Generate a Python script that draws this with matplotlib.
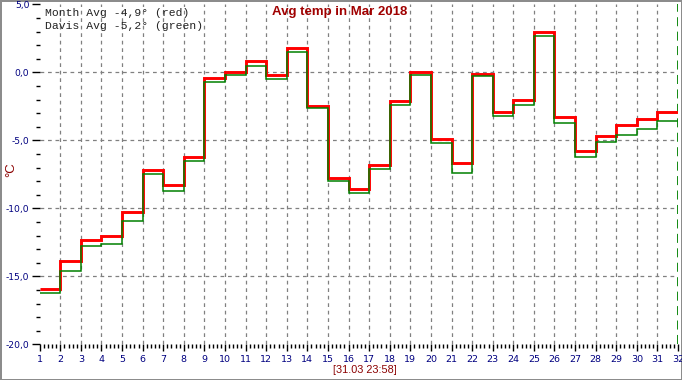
import matplotlib
matplotlib.use("Agg")
import matplotlib.pyplot as plt
from matplotlib.ticker import MultipleLocator
import numpy as np

# daily average temperatures, March 2018
days = np.arange(1, 33)
month_avg = [-15.9, -13.9, -12.3, -12.0, -10.3, -7.2, -8.3, -6.2, -0.4, 0.0,
             0.8, -0.2, 1.8, -2.5, -7.8, -8.6, -6.8, -2.1, -0.0, -4.9,
             -6.7, -0.1, -2.9, -2.0, 3.0, -3.3, -5.8, -4.7, -3.9, -3.4, -2.9]
davis_avg = [-16.2, -14.6, -12.8, -12.6, -10.9, -7.5, -8.7, -6.5, -0.7, -0.2,
             0.5, -0.5, 1.5, -2.6, -8.0, -8.9, -7.1, -2.4, -0.2, -5.2,
             -7.4, -0.3, -3.2, -2.4, 2.7, -3.7, -6.2, -5.1, -4.6, -4.2, -3.6]
legend_lines = ["Month Avg -4,9\u00b0 (red)", "Davis Avg -5,2\u00b0 (green)"]
title = "Avg temp in Mar 2018"
stamp = "[31.03 23:58]"

W, H = 682, 380
fig = plt.figure(figsize=(W / 100, H / 100), dpi=100)
fig.patch.set_facecolor("white")
fig.patch.set_edgecolor("#8c8c8c")
fig.patch.set_linewidth(2)

x0, x1 = 39.7, 678.0
ytop, ybot = 4.3, 344.3
ax = fig.add_axes([x0 / W, 1 - ybot / H, (x1 - x0) / W, (ybot - ytop) / H])
ax.set_xlim(1, 32)
ax.set_ylim(-20, 5)
for s in ax.spines.values():
    s.set_visible(False)

navy = "#000080"
dred = "#8b0000"

# grid
for d in range(2, 32):
    ax.axvline(d, color="#808080", lw=0.9, ls=(0, (3, 3)), zorder=1)
for v in [0, -5, -10, -15]:
    ax.axhline(v, color="#808080", lw=0.9, ls=(0, (3, 3)), zorder=1)
ax.axvline(32, color="#008000", lw=1.3, ls=(0, (5, 3)), zorder=2)

ax.stairs(month_avg, days, baseline=None, color="#ff0000", lw=2.1, zorder=3)
ax.stairs(davis_avg, days, baseline=None, color="#008000", lw=1.1, zorder=4)

ax.xaxis.set_major_locator(MultipleLocator(1))
ax.xaxis.set_minor_locator(MultipleLocator(0.2))
ax.yaxis.set_minor_locator(MultipleLocator(1))
ax.set_yticks([5, 0, -5, -10, -15, -20])
ax.set_yticklabels([f"{v:.1f}".replace(".", ",") for v in [5, 0, -5, -10, -15, -20]])
ax.tick_params(axis="x", which="major", length=5, width=1, pad=2.5,
               labelsize=6.8, labelcolor=navy)
ax.tick_params(axis="x", which="minor", length=3, width=1)
ax.tick_params(axis="y", which="major", length=6, width=1, pad=1.5,
               labelsize=6.6, labelcolor=navy)
ax.tick_params(axis="y", which="minor", length=3, width=1)
ax.patch.set_alpha(0)

fig.text(45 / W, 1 - 13 / H, legend_lines[0], family="Liberation Mono",
         fontsize=8.2, color="#222222", va="center", ha="left")
fig.text(45 / W, 1 - 26 / H, legend_lines[1], family="Liberation Mono",
         fontsize=8.2, color="#222222", va="center", ha="left")
fig.text(340 / W, 1 - 12 / H, title, family="Liberation Sans", weight="bold",
         fontsize=9.5, color="#a00000", ha="center", va="center")
fig.text(365 / W, 1 - 370 / H, stamp, family="Liberation Sans",
         fontsize=7.8, color=dred, ha="center", va="center")
fig.text(11 / W, 1 - 170 / H, "\u00b0C", family="Liberation Sans",
         fontsize=9.5, color=dred, ha="center", va="center", rotation=90)

fig.savefig("out.png", dpi=100, edgecolor=fig.get_edgecolor())
